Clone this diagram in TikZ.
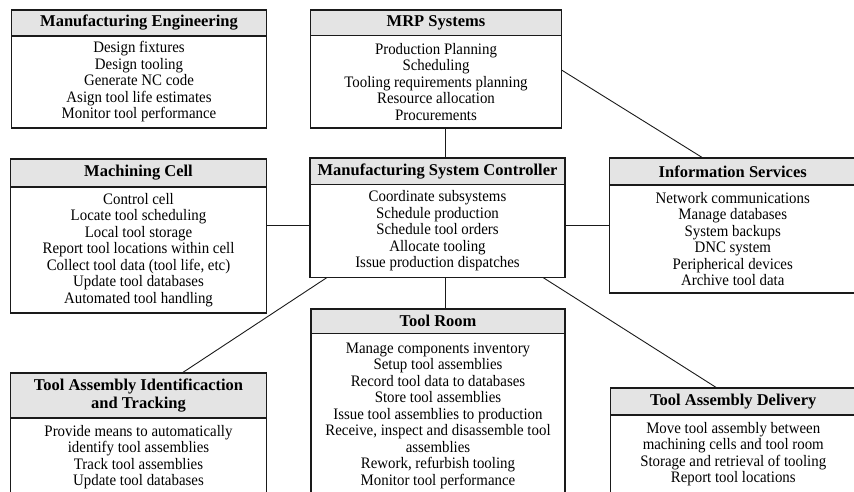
\documentclass[tikz,border=0pt]{standalone}
\usepackage{fontspec}
\setmainfont{Liberation Serif}
\newfontfamily\bodyfont[FakeStretch=0.93]{Liberation Serif}
\usetikzlibrary{calc}
\definecolor{headgray}{HTML}{E4E4E4}
\definecolor{inkline}{HTML}{1A1A1A}

\tikzset{
  box/.style={draw=inkline, line width=1.3pt, rectangle, inner sep=2pt, outer sep=0pt},
  head/.style={box, fill=headgray, align=center,
    font=\fontsize{16.5}{18}\selectfont\bfseries},
  body/.style={box, fill=white, align=center,
    font=\bodyfont\fontsize{16}{16.5}\selectfont},
  link/.style={draw=inkline, line width=0.9pt},
}

\begin{document}
\begin{tikzpicture}[x=1pt, y=-1pt]
\useasboundingbox (0,0) rectangle (854,491);
\clip (0,0) rectangle (854,491);

% Manufacturing Engineering
\node[head, minimum width=255, minimum height=26, anchor=north west] (me) at (11.5,10) {Manufacturing Engineering};
\node[body, minimum width=255, minimum height=92, anchor=north] (meb) at (me.south)
  {Design fixtures\\Design tooling\\Generate NC code\\Asign tool life estimates\\Monitor tool performance};

% MRP Systems
\node[head, minimum width=251, minimum height=25.5, anchor=north west] (mrp) at (310.5,10) {MRP Systems};
\node[body, minimum width=251, minimum height=92.5, anchor=north] (mrpb) at (mrp.south)
  {Production Planning\\Scheduling\\Tooling requirements planning\\Resource allocation\\Procurements};

% Machining Cell
\node[head, minimum width=256, minimum height=28, anchor=north west] (mc) at (10.5,159) {Machining Cell};
\node[body, minimum width=256, minimum height=126, anchor=north] (mcb) at (mc.south)
  {Control cell\\Locate tool scheduling\\Local tool storage\\Report tool locations within cell\\Collect tool data (tool life, etc)\\Update tool databases\\Automated tool handling};

% Manufacturing System Controller
\node[head, minimum width=255, minimum height=26.5, anchor=north west] (msc) at (310,158) {Manufacturing System Controller};
\node[body, minimum width=255, minimum height=93, anchor=north] (mscb) at (msc.south)
  {Coordinate subsystems\\Schedule production\\Schedule tool orders\\Allocate tooling\\Issue production dispatches};

% Information Services
\node[head, minimum width=246.5, minimum height=27, anchor=north west] (is) at (609.5,158) {Information Services};
\node[body, minimum width=246.5, minimum height=108, anchor=north] (isb) at (is.south)
  {Network communications\\Manage databases\\System backups\\DNC system\\Peripherical devices\\Archive tool data};

% Tool Room
\node[head, minimum width=254, minimum height=24.5, anchor=north west] (tr) at (311,309) {Tool Room};
\node[body, minimum width=254, minimum height=164, anchor=north] (trb) at (tr.south)
  {Manage components inventory\\Setup tool assemblies\\Record tool data to databases\\Store tool assemblies\\Issue tool assemblies to production\\Receive, inspect and disassemble tool\\assemblies\\Rework, refurbish tooling\\Monitor tool performance};

% Tool Assembly Identification and Tracking
\node[head, minimum width=256, minimum height=45, anchor=north west] (tai) at (10.5,373) {Tool Assembly Identificaction\\and Tracking};
\node[body, minimum width=256, minimum height=78, anchor=north] (taib) at (tai.south)
  {Provide means to automatically\\identify tool assemblies\\Track tool assemblies\\Update tool databases};

% Tool Assembly Delivery
\node[head, minimum width=245.5, minimum height=27, anchor=north west] (tad) at (610.5,388) {Tool Assembly Delivery};
\node[body, minimum width=245.5, minimum height=78, anchor=north] (tadb) at (tad.south)
  {Move tool assembly between\\machining cells and tool room\\Storage and retrieval of tooling\\Report tool locations};

% Connectors
\draw[link] ([xshift=7.5]msc.north) -- ([xshift=7.5]msc.north |- mrpb.south);
\draw[link] ([yshift=11.75]mrpb.east) -- ([xshift=-29.75]is.north);
\draw[link] ([yshift=6]mscb.west) -- ([yshift=6]mscb.west -| mcb.east);
\draw[link] ([yshift=6]mscb.east) -- ([yshift=6]mscb.east -| isb.west);
\draw[link] ([xshift=7.5]mscb.south) -- ([xshift=7.5]mscb.south |- tr.north);
\draw[link] ([xshift=17]mscb.south west) -- ([xshift=171.5]tai.north west);
\draw[link] ([xshift=233]mscb.south west) -- ([xshift=106.5]tad.north west);
\end{tikzpicture}
\end{document}
